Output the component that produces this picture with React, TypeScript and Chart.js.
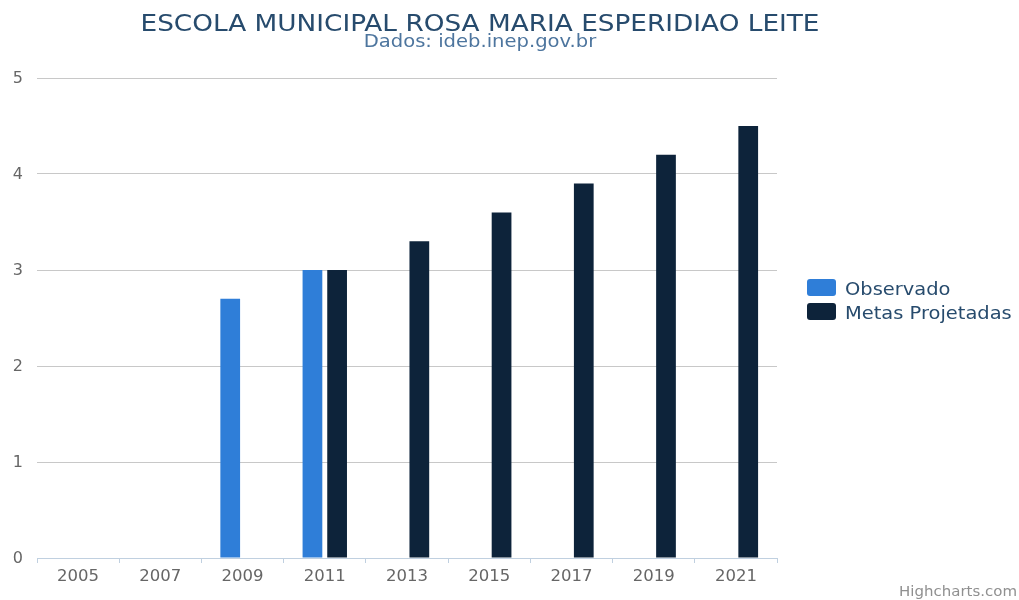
import React, { useEffect, useRef } from 'react';
import { Chart, registerables } from 'chart.js';

Chart.register(...registerables);

const years = ['2005', '2007', '2009', '2011', '2013', '2015', '2017', '2019', '2021'];
const observado = [null, null, 2.7, 3.0, null, null, null, null, null];
const metas = [null, null, null, 3.0, 3.3, 3.6, 3.9, 4.2, 4.5];
const yTicks = [0, 1, 2, 3, 4, 5];
const titleText = 'ESCOLA MUNICIPAL ROSA MARIA ESPERIDIAO LEITE';
const subtitleText = 'Dados: ideb.inep.gov.br';
const creditText = 'Highcharts.com';
const seriesNames = ['Observado', 'Metas Projetadas'];
const seriesColors = ['#2f7ed8', '#0d233a'];

const FONT = '"DejaVu Sans", Verdana, sans-serif';

function drawText(
  ctx: CanvasRenderingContext2D,
  text: string,
  x: number,
  y: number,
  size: number,
  color: string,
  align: 'left' | 'center' | 'right',
  sx: number
) {
  ctx.save();
  ctx.font = `${size}px ${FONT}`;
  ctx.fillStyle = color;
  ctx.textBaseline = 'alphabetic';
  ctx.textAlign = 'left';
  const w = ctx.measureText(text).width * sx;
  const left = align === 'center' ? x - w / 2 : align === 'right' ? x - w : x;
  ctx.translate(left, y);
  ctx.scale(sx, 1);
  ctx.fillText(text, 0, 0);
  ctx.restore();
}

function roundRect(ctx: CanvasRenderingContext2D, x: number, y: number, w: number, h: number, r: number) {
  ctx.beginPath();
  ctx.moveTo(x + r, y);
  ctx.lineTo(x + w - r, y);
  ctx.quadraticCurveTo(x + w, y, x + w, y + r);
  ctx.lineTo(x + w, y + h - r);
  ctx.quadraticCurveTo(x + w, y + h, x + w - r, y + h);
  ctx.lineTo(x + r, y + h);
  ctx.quadraticCurveTo(x, y + h, x, y + h - r);
  ctx.lineTo(x, y + r);
  ctx.quadraticCurveTo(x, y, x + r, y);
  ctx.closePath();
}

const decorations = {
  id: 'decorations',
  afterDraw(chart: any) {
    const ctx: CanvasRenderingContext2D = chart.ctx;
    drawText(ctx, titleText, 480, 31, 22.5, '#274b6d', 'center', 1.17);
    drawText(ctx, subtitleText, 480, 47, 17, '#4d759e', 'center', 1.15);
    seriesNames.forEach((name, i) => {
      const top = 279 + i * 24;
      ctx.save();
      ctx.fillStyle = seriesColors[i];
      roundRect(ctx, 807, top, 29, 17, 3);
      ctx.fill();
      ctx.restore();
      drawText(ctx, name, 845, top + 16, 18, '#274b6d', 'left', 1.08);
    });
    drawText(ctx, creditText, 1017, 596, 14, '#909090', 'right', 1.07);
  },
};

export default function App() {
  const ref = useRef<HTMLCanvasElement>(null);
  useEffect(() => {
    if (!ref.current) return;
    const chart = new Chart(ref.current, {
      type: 'bar',
      data: {
        labels: years,
        datasets: [
          {
            label: seriesNames[0],
            data: observado,
            backgroundColor: seriesColors[0],
            categoryPercentage: 0.6,
            barPercentage: 0.8,
          },
          {
            label: seriesNames[1],
            data: metas,
            backgroundColor: seriesColors[1],
            categoryPercentage: 0.6,
            barPercentage: 0.8,
          },
        ],
      },
      options: {
        animation: false,
        responsive: true,
        maintainAspectRatio: false,
        layout: { padding: { top: 78, right: 242, bottom: 0, left: 0 } },
        plugins: {
          legend: { display: false },
          title: { display: false },
          tooltip: { enabled: false },
        },
        scales: {
          x: {
            grid: {
              offset: true,
              drawOnChartArea: false,
              drawTicks: true,
              tickLength: 5,
              color: '#C0D0E0',
            },
            border: { display: true, color: '#C0D0E0', width: 1 },
            ticks: {
              color: '#666666',
              font: { family: FONT, size: 16.5 },
              padding: 4,
              maxRotation: 0,
            },
            afterFit(s: any) {
              s.height = 42;
            },
          },
          y: {
            min: 0,
            max: 5,
            grid: { color: '#C8C8C8', drawTicks: false },
            border: { display: false },
            ticks: {
              color: '#666666',
              font: { family: FONT, size: 16 },
              padding: 14,
              labelOffset: 1,
            },
            afterBuildTicks(s: any) {
              s.ticks = yTicks.map((v) => ({ value: v }));
            },
            afterFit(s: any) {
              s.width = 37;
            },
          },
        },
      },
      plugins: [decorations],
    });
    return () => chart.destroy();
  }, []);
  return (
    <div style={{ position: 'absolute', left: 0, top: 0, width: 1019, height: 600, background: '#fff' }}>
      <canvas ref={ref} />
    </div>
  );
}
